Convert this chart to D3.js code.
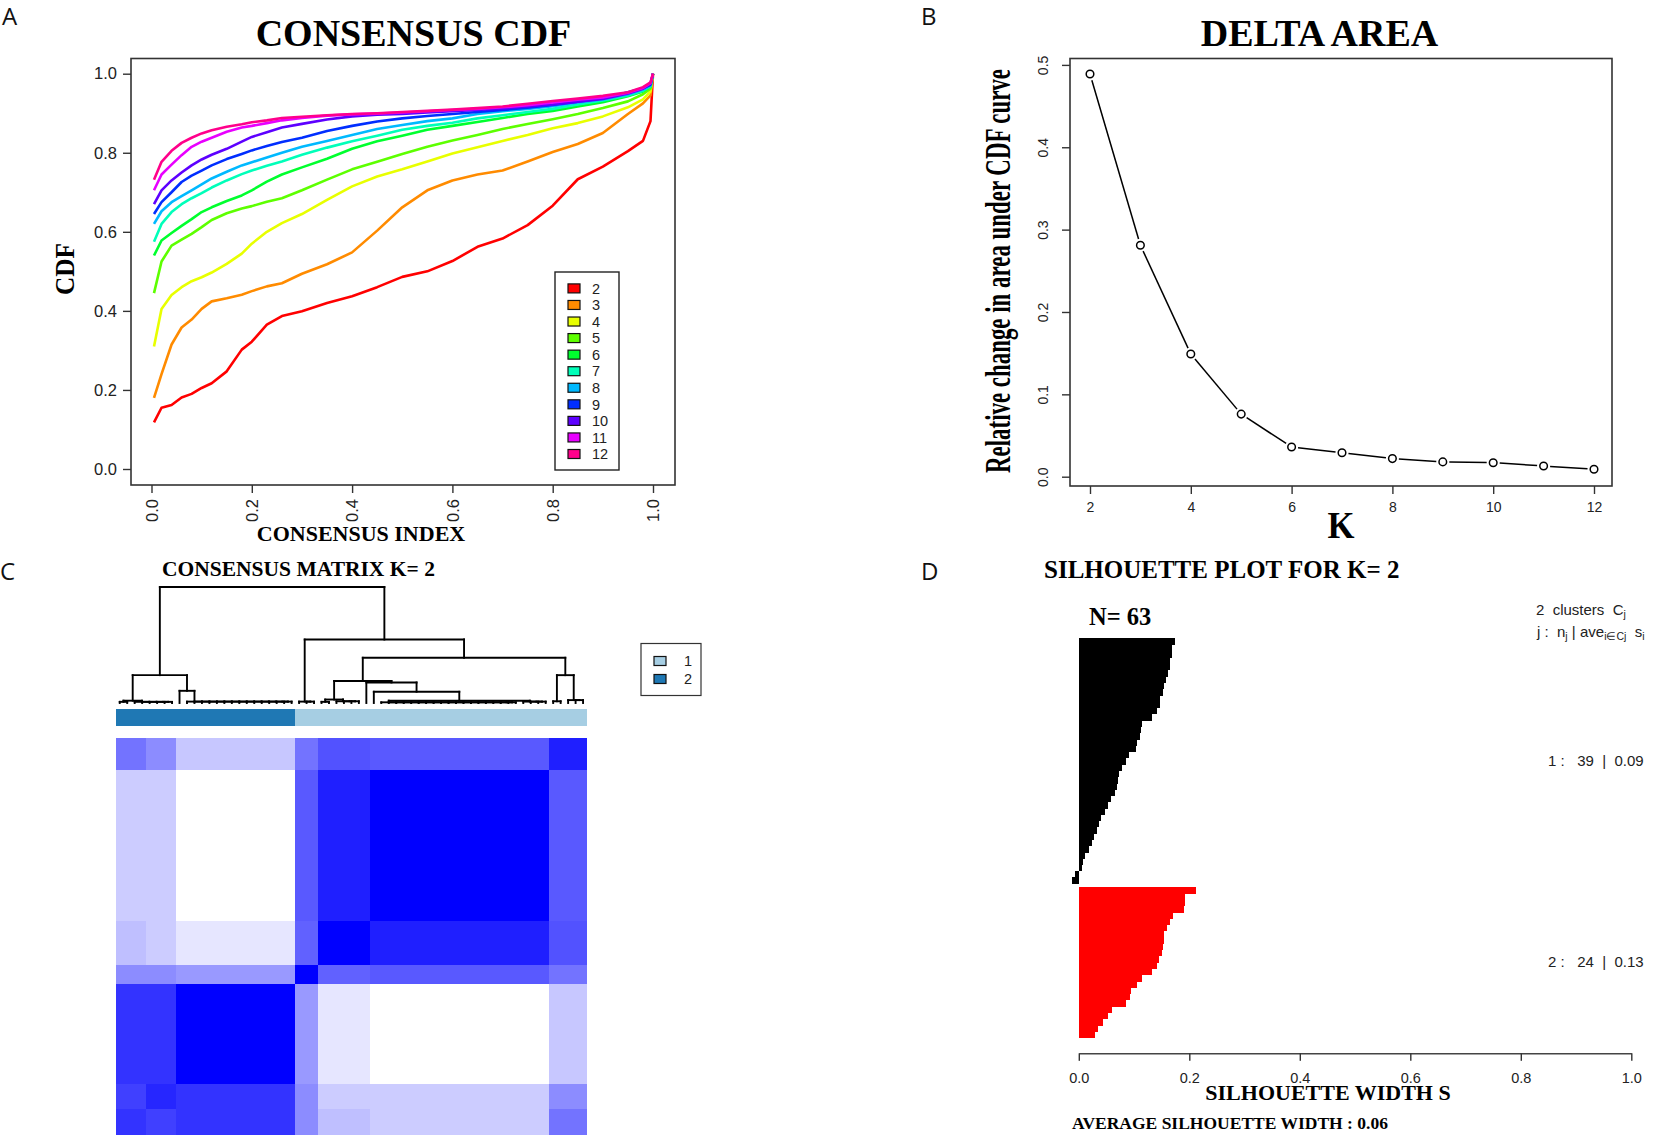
<!DOCTYPE html>
<html>
<head>
<meta charset="utf-8">
<script src="https://cdn.jsdelivr.net/npm/d3@7"></script>
<style>
  body { margin: 0; background: #fff; }
  svg { display: block; }
  text { font-family: "Liberation Sans", Arial, sans-serif; fill: #222; }
  .serif { font-family: "Liberation Serif", "Times New Roman", serif; font-weight: bold; fill: #000; }
  .panel { font-family: "Open Sans", "DejaVu Sans", sans-serif; font-size: 24px; fill: #111; }
  .pre { white-space: pre; }
</style>
</head>
<body>
<div id="chart"></div>
<script>
// ---------- Panel A: consensus CDF ----------
const cdfIndex = [0.005, 0.02, 0.04, 0.06, 0.08, 0.1, 0.12, 0.15, 0.18, 0.2, 0.23, 0.26, 0.3, 0.35, 0.4,
                  0.45, 0.5, 0.55, 0.6, 0.65, 0.7, 0.75, 0.8, 0.85, 0.9, 0.95, 0.98, 0.995, 1.0];
const cdfK2  = [0.118,0.155,0.162,0.181,0.19,0.205,0.217,0.247,0.302,0.322,0.365,0.387,0.399,0.42,0.437,0.46,0.486,0.5,0.526,0.562,0.583,0.617,0.666,0.733,0.765,0.804,0.83,0.88,1.0];
const cdfK3  = [0.18,0.24,0.315,0.358,0.378,0.405,0.424,0.432,0.441,0.45,0.462,0.47,0.494,0.518,0.548,0.603,0.662,0.705,0.73,0.745,0.755,0.778,0.802,0.822,0.85,0.898,0.925,0.945,1.0];
const cdfK4  = [0.31,0.405,0.44,0.46,0.475,0.485,0.497,0.519,0.545,0.57,0.6,0.622,0.645,0.681,0.715,0.74,0.758,0.778,0.798,0.814,0.83,0.845,0.862,0.875,0.892,0.915,0.935,0.955,1.0];
const cdfK5  = [0.445,0.525,0.565,0.58,0.595,0.612,0.63,0.647,0.659,0.665,0.676,0.685,0.705,0.732,0.758,0.777,0.797,0.815,0.831,0.845,0.86,0.873,0.885,0.898,0.913,0.93,0.948,0.962,1.0];
const cdfK6  = [0.54,0.578,0.597,0.615,0.632,0.65,0.662,0.678,0.692,0.705,0.727,0.745,0.763,0.785,0.81,0.829,0.843,0.858,0.868,0.878,0.888,0.898,0.906,0.917,0.928,0.943,0.955,0.967,1.0];
const cdfK7  = [0.575,0.62,0.65,0.67,0.685,0.698,0.712,0.73,0.746,0.755,0.767,0.778,0.795,0.813,0.829,0.843,0.858,0.868,0.876,0.887,0.895,0.903,0.911,0.922,0.932,0.945,0.957,0.968,1.0];
const cdfK8  = [0.62,0.652,0.675,0.69,0.705,0.72,0.735,0.752,0.768,0.776,0.788,0.8,0.815,0.83,0.845,0.86,0.87,0.88,0.887,0.898,0.905,0.911,0.918,0.927,0.935,0.948,0.96,0.97,1.0];
const cdfK9  = [0.645,0.675,0.7,0.726,0.742,0.755,0.768,0.784,0.797,0.806,0.817,0.827,0.838,0.855,0.868,0.879,0.887,0.893,0.898,0.903,0.908,0.914,0.921,0.929,0.938,0.953,0.963,0.972,1.0];
const cdfK10 = [0.67,0.705,0.73,0.75,0.768,0.783,0.795,0.81,0.828,0.84,0.852,0.864,0.873,0.884,0.892,0.896,0.898,0.902,0.905,0.908,0.912,0.917,0.922,0.929,0.936,0.95,0.962,0.975,1.0];
const cdfK11 = [0.705,0.745,0.77,0.794,0.815,0.828,0.838,0.853,0.864,0.868,0.875,0.882,0.888,0.894,0.897,0.899,0.902,0.905,0.908,0.911,0.915,0.92,0.927,0.934,0.94,0.952,0.964,0.976,1.0];
const cdfK12 = [0.732,0.777,0.805,0.825,0.838,0.849,0.857,0.866,0.872,0.877,0.882,0.888,0.891,0.895,0.898,0.9,0.903,0.906,0.909,0.913,0.917,0.924,0.931,0.937,0.944,0.953,0.966,0.978,1.0];
const cdfLabels = ["2","3","4","5","6","7","8","9","10","11","12"];
const cdfColors = ["#FF0000","#FF8B00","#E8FF00","#5DFF00","#00FF2E","#00FFB9","#00B9FF","#002EFF","#5D00FF","#E800FF","#FF008B"];
const cdfTicks = [0, 0.2, 0.4, 0.6, 0.8, 1.0];

// ---------- Panel B: delta area ----------
const deltaK = [2, 3, 4, 5, 6, 7, 8, 9, 10, 11, 12];
const deltaArea = [0.489, 0.281, 0.149, 0.076, 0.036, 0.029, 0.022, 0.018, 0.017, 0.013, 0.009];
const deltaXTicks = [2, 4, 6, 8, 10, 12];
const deltaYTicks = [0, 0.1, 0.2, 0.3, 0.4, 0.5];

// ---------- Panel C: consensus matrix ----------
// sample blocks in dendrogram order and the cluster each block belongs to
const blockSizes = [4, 4, 16, 3, 7, 24, 5];
const blockCluster = [2, 2, 2, 1, 1, 1, 1];
// consensus level between blocks (0 = white, 1 = full blue)
const consensusLevels = [
  [0.80, 0.75, 0.80, 0.45, 0.25, 0.20, 0.55],
  [0.75, 0.85, 0.80, 0.45, 0.20, 0.20, 0.45],
  [0.80, 0.80, 1.00, 0.40, 0.10, 0.00, 0.22],
  [0.45, 0.45, 0.40, 1.00, 0.62, 0.65, 0.55],
  [0.25, 0.20, 0.10, 0.62, 1.00, 0.88, 0.68],
  [0.20, 0.20, 0.00, 0.65, 0.88, 1.00, 0.65],
  [0.55, 0.45, 0.22, 0.55, 0.68, 0.65, 0.88]
];
const clusterColors = {1: "#A6CEE3", 2: "#1F78B4"};
// dendrogram: [height, left, right] or ["c", n, height] = chain of n leaves
const dendroTree =
  [1.0,
    [0.24,
      [0.02, ["c", 2, 0.01], ["c", 6, 0.01]],
      [0.105, ["c", 1, 0], ["c", 15, 0.012]]],
    [0.547,
      ["c", 3, 0.012],
      [0.39,
        [0.19,
          [0.03, ["c", 2, 0.01], ["c", 4, 0.015]],
          [0.177, ["c", 1, 0], [0.097, ["c", 1, 0], [0.02, ["c", 19, 0.006], ["c", 4, 0.012]]]]],
        [0.24, ["c", 2, 0.015], ["c", 3, 0.025]]]]];

// ---------- Panel D: silhouette ----------
const silCluster1 = [0.174,0.168,0.168,0.165,0.165,0.162,0.157,0.155,0.153,0.147,0.147,0.141,0.132,0.115,0.113,0.11,0.106,0.104,0.09,0.085,0.079,0.072,0.071,0.069,0.066,0.058,0.052,0.047,0.041,0.037,0.033,0.027,0.023,0.019,0.011,0.008,0.006,-0.006,-0.012];
const silCluster2 = [0.212,0.193,0.192,0.19,0.171,0.165,0.159,0.155,0.154,0.153,0.151,0.146,0.141,0.133,0.114,0.105,0.094,0.093,0.086,0.06,0.052,0.044,0.035,0.03];
const silTicks = [0, 0.2, 0.4, 0.6, 0.8, 1.0];

const svg = d3.select("#chart").append("svg").attr("width", 1654).attr("height", 1139);
svg.append("rect").attr("width", 1654).attr("height", 1139).attr("fill", "#fff");

const fmt1 = d3.format(".1f");

// squeeze a label to a given length (the original uses narrow, stretched type)
function squeeze(sel, x, y, rot, len) {
  const w = sel.node().getComputedTextLength();
  sel.attr("transform", `translate(${x},${y}) rotate(${rot}) scale(${len / w},1)`);
}

// ================= Panel A =================
const gA = svg.append("g");
const ax = d3.scaleLinear().domain([0, 1]).range([151.5, 653]);
const ay = d3.scaleLinear().domain([0, 1]).range([469, 73.7]);

gA.append("text").attr("class", "panel").attr("x", 2).attr("y", 25).text("A");
gA.append("text").attr("class", "serif").attr("x", 413.5).attr("y", 46).attr("text-anchor", "middle")
  .style("font-size", "38px").text("CONSENSUS CDF");

const cdfSeries = [cdfK2, cdfK3, cdfK4, cdfK5, cdfK6, cdfK7, cdfK8, cdfK9, cdfK10, cdfK11, cdfK12];
const cdfLine = d3.line().x((d, i) => ax(cdfIndex[i])).y(d => ay(d));
gA.append("g").selectAll("path").data(cdfSeries).enter().append("path")
  .attr("d", cdfLine).attr("fill", "none")
  .attr("stroke", (d, i) => cdfColors[i]).attr("stroke-width", 2.6).attr("stroke-linejoin", "round");

gA.append("rect").attr("x", 131).attr("y", 58.5).attr("width", 544).attr("height", 426.5)
  .attr("fill", "none").attr("stroke", "#333").attr("stroke-width", 1.6);

const aYAxis = gA.append("g").attr("transform", "translate(131,0)")
  .call(d3.axisLeft(ay).tickValues(cdfTicks).tickSize(8).tickSizeOuter(0).tickFormat(fmt1));
aYAxis.select(".domain").remove();
aYAxis.selectAll("text").style("font-size", "16.5px").attr("x", -14);

const aXAxis = gA.append("g").attr("transform", "translate(0,485)")
  .call(d3.axisBottom(ax).tickValues(cdfTicks).tickSize(8).tickSizeOuter(0).tickFormat(fmt1));
aXAxis.select(".domain").remove();
aXAxis.selectAll("text").style("font-size", "16.5px")
  .attr("transform", "rotate(-90)").attr("text-anchor", "end")
  .attr("x", -14).attr("y", 0).attr("dy", "0.35em");
gA.selectAll(".tick line").attr("stroke", "#333").attr("stroke-width", 1.4);

gA.append("text").attr("class", "serif").attr("x", 361).attr("y", 541).attr("text-anchor", "middle")
  .style("font-size", "22px").text("CONSENSUS INDEX");
gA.append("text").attr("class", "serif").attr("text-anchor", "middle").style("font-size", "27px")
  .text("CDF").call(squeeze, 74, 269, -90, 52);

// legend
const legA = gA.append("g");
legA.append("rect").attr("x", 555).attr("y", 272).attr("width", 64).attr("height", 198)
  .attr("fill", "#fff").attr("stroke", "#222").attr("stroke-width", 1.4);
const legItems = legA.selectAll("g.item").data(cdfLabels).enter().append("g")
  .attr("transform", (d, i) => `translate(0,${288.4 + i * 16.56})`);
legItems.append("rect").attr("x", 568).attr("y", -4.5).attr("width", 12).attr("height", 9)
  .attr("fill", (d, i) => cdfColors[i]).attr("stroke", "#111").attr("stroke-width", 1.2);
legItems.append("text").attr("x", 592).attr("y", 0).attr("dy", "0.36em")
  .style("font-size", "14.5px").text(d => d);

// ================= Panel B =================
const gB = svg.append("g");
const bx = d3.scaleLinear().domain([2, 12]).range([1090, 1594]);
const by = d3.scaleLinear().domain([0, 0.5]).range([476.7, 64.9]);

gB.append("text").attr("class", "panel").attr("x", 921).attr("y", 25).text("B");
gB.append("text").attr("class", "serif").attr("x", 1319.5).attr("y", 46).attr("text-anchor", "middle")
  .style("font-size", "38px").text("DELTA AREA");

gB.append("rect").attr("x", 1070).attr("y", 58.5).attr("width", 542).attr("height", 427.5)
  .attr("fill", "none").attr("stroke", "#333").attr("stroke-width", 1.6);

const bYAxis = gB.append("g").attr("transform", "translate(1070,0)")
  .call(d3.axisLeft(by).tickValues(deltaYTicks).tickSize(8).tickSizeOuter(0).tickFormat(fmt1));
bYAxis.select(".domain").remove();
bYAxis.selectAll("text").style("font-size", "14px")
  .attr("transform", "rotate(-90)").attr("text-anchor", "middle")
  .attr("x", 0).attr("y", -22).attr("dy", 0);
const bXAxis = gB.append("g").attr("transform", "translate(0,486)")
  .call(d3.axisBottom(bx).tickValues(deltaXTicks).tickSize(8).tickSizeOuter(0).tickFormat(d3.format("d")));
bXAxis.select(".domain").remove();
bXAxis.selectAll("text").style("font-size", "14px").attr("y", 16).attr("dy", "0.71em");
gB.selectAll(".tick line").attr("stroke", "#333").attr("stroke-width", 1.4);

// line segments with gaps around the points (type = "b")
const deltaPts = deltaK.map((k, i) => [bx(k), by(deltaArea[i])]);
const gap = 6.5;
const segB = d3.pairs(deltaPts).map(([p, q]) => {
  const dx = q[0] - p[0], dy = q[1] - p[1], len = Math.hypot(dx, dy);
  const ux = dx / len, uy = dy / len;
  return [p[0] + ux * gap, p[1] + uy * gap, q[0] - ux * gap, q[1] - uy * gap, len];
}).filter(s => s[4] > 2 * gap);
gB.append("g").selectAll("line").data(segB).enter().append("line")
  .attr("x1", d => d[0]).attr("y1", d => d[1]).attr("x2", d => d[2]).attr("y2", d => d[3])
  .attr("stroke", "#000").attr("stroke-width", 1.5);
gB.append("g").selectAll("circle").data(deltaPts).enter().append("circle")
  .attr("cx", d => d[0]).attr("cy", d => d[1]).attr("r", 3.8)
  .attr("fill", "#fff").attr("stroke", "#000").attr("stroke-width", 1.5);

gB.append("text").attr("class", "serif").attr("text-anchor", "middle").style("font-size", "38px")
  .text("K").call(squeeze, 1341, 538, 0, 27);
gB.append("text").attr("class", "serif").attr("text-anchor", "middle").style("font-size", "35px")
  .text("Relative change in area under CDF curve").call(squeeze, 1010, 271, -90, 404);

// ================= Panel C =================
const gC = svg.append("g");
gC.append("text").attr("class", "panel").attr("x", 0).attr("y", 580).text("C");
gC.append("text").attr("class", "serif").attr("x", 162).attr("y", 576)
  .style("font-size", "21.5px").text("CONSENSUS MATRIX K= 2");

const nSamples = d3.sum(blockSizes);
const sampleBlock = blockSizes.flatMap((n, b) => d3.range(n).map(() => b));
const samples = d3.range(nSamples);
const hx = d3.scaleBand().domain(samples).range([116, 586.8]);
const hy = d3.scaleBand().domain(samples.slice().reverse()).range([738, 1134]);
const blue = d3.scaleLinear().domain([0, 1]).range(["#ffffff", "#0000ff"]);

const cells = samples.flatMap(r => samples.map(c => ({r, c, v: consensusLevels[sampleBlock[r]][sampleBlock[c]]})));
gC.append("g").attr("shape-rendering", "crispEdges").selectAll("rect").data(cells).enter().append("rect")
  .attr("x", d => hx(d.c)).attr("y", d => hy(d.r))
  .attr("width", hx.bandwidth() + 0.5).attr("height", hy.bandwidth() + 0.5)
  .attr("fill", d => blue(d.v));

gC.append("g").attr("shape-rendering", "crispEdges").selectAll("rect").data(samples).enter().append("rect")
  .attr("x", d => hx(d)).attr("y", 708.7).attr("width", hx.bandwidth() + 0.5).attr("height", 17.3)
  .attr("fill", d => clusterColors[blockCluster[sampleBlock[d]]]);

// dendrogram
const dy = d3.scaleLinear().domain([0, 1]).range([703, 587]);
const leafX = i => hx(i) + hx.bandwidth() / 2;
let nextLeaf = 0;
const dSegs = [];
function buildTree(node) {
  if (node[0] === "c") {
    const n = node[1], h = node[2];
    const xs = d3.range(n).map(() => leafX(nextLeaf++));
    let x = xs[n - 1], ht = 0;
    for (let k = n - 2; k >= 0; k--) {
      dSegs.push([xs[k], dy(0), xs[k], dy(h)], [x, dy(ht), x, dy(h)], [xs[k], dy(h), x, dy(h)]);
      x = (xs[k] + x) / 2; ht = h;
    }
    return {x, h: n > 1 ? h : 0};
  }
  const a = buildTree(node[1]), b = buildTree(node[2]), h = node[0];
  dSegs.push([a.x, dy(a.h), a.x, dy(h)], [b.x, dy(b.h), b.x, dy(h)], [a.x, dy(h), b.x, dy(h)]);
  return {x: (a.x + b.x) / 2, h};
}
buildTree(dendroTree);
gC.append("g").selectAll("line").data(dSegs).enter().append("line")
  .attr("x1", d => d[0]).attr("y1", d => d[1]).attr("x2", d => d[2]).attr("y2", d => d[3])
  .attr("stroke", "#000").attr("stroke-width", 1.9).attr("stroke-linecap", "square");

// cluster legend
const legC = gC.append("g");
legC.append("rect").attr("x", 641).attr("y", 643.5).attr("width", 60).attr("height", 52)
  .attr("fill", "#fff").attr("stroke", "#333").attr("stroke-width", 1.2);
const legCItems = legC.selectAll("g.item").data([1, 2]).enter().append("g")
  .attr("transform", (d, i) => `translate(0,${661 + i * 18})`);
legCItems.append("rect").attr("x", 654).attr("y", -4.5).attr("width", 12).attr("height", 9)
  .attr("fill", d => clusterColors[d]).attr("stroke", "#111").attr("stroke-width", 1.2);
legCItems.append("text").attr("x", 684).attr("y", 0).attr("dy", "0.36em")
  .style("font-size", "14.5px").text(d => d);

// ================= Panel D =================
const gD = svg.append("g");
gD.append("text").attr("class", "panel").attr("x", 921).attr("y", 580).text("D");
gD.append("text").attr("class", "serif").attr("x", 1044).attr("y", 578)
  .style("font-size", "25px").text("SILHOUETTE PLOT FOR K= 2");
gD.append("text").attr("class", "serif").attr("x", 1089).attr("y", 625)
  .style("font-size", "24.5px").text("N= 63");

const sx = d3.scaleLinear().domain([0, 1]).range([1078.8, 1631.3]);
const silBars = silCluster1.map(v => ({v, c: 1})).concat(silCluster2.map(v => ({v, c: 2})));
const gapBars = 0.55;
const sy = d3.scaleLinear().domain([0, silBars.length + gapBars]).range([638.3, 1037.3]);
const barH = sy(1) - sy(0);
gD.append("g").attr("shape-rendering", "crispEdges").selectAll("rect").data(silBars).enter().append("rect")
  .attr("x", d => sx(Math.min(0, d.v))).attr("width", d => Math.abs(sx(d.v) - sx(0)))
  .attr("y", (d, i) => sy(i + (d.c === 2 ? gapBars : 0))).attr("height", barH + 0.8)
  .attr("fill", d => d.c === 1 ? "#000" : "#ff0000");

const dXAxis = gD.append("g").attr("transform", "translate(0,1053.3)")
  .call(d3.axisBottom(sx).tickValues(silTicks).tickSize(7.5).tickSizeOuter(0).tickFormat(fmt1));
dXAxis.select(".domain").attr("stroke", "#444").attr("stroke-width", 1.5);
dXAxis.selectAll(".tick line").attr("stroke", "#333").attr("stroke-width", 1.4);
dXAxis.selectAll("text").style("font-size", "14.5px").attr("y", 19).attr("dy", "0.71em");

gD.append("text").attr("class", "serif").attr("x", 1328).attr("y", 1100).attr("text-anchor", "middle")
  .style("font-size", "22px").text("SILHOUETTE WIDTH S");
gD.append("text").attr("class", "serif").attr("x", 1072).attr("y", 1129)
  .style("font-size", "17.5px").text("AVERAGE SILHOUETTE WIDTH : 0.06");

const silFmt = d3.format(".2f");
const t1 = gD.append("text").attr("class", "pre").attr("x", 1536).attr("y", 615).style("font-size", "15px");
t1.append("tspan").text("2  clusters  C");
t1.append("tspan").attr("dy", 3).style("font-size", "10.5px").text("j");
const t2 = gD.append("text").attr("class", "pre").attr("x", 1537).attr("y", 637).style("font-size", "15px");
t2.append("tspan").text("j :  n");
t2.append("tspan").attr("dy", 3).style("font-size", "10.5px").text("j");
t2.append("tspan").attr("dy", -3).text(" | ave");
t2.append("tspan").attr("dy", 3).style("font-size", "10.5px").text("i\u2208Cj");
t2.append("tspan").attr("dy", -3).text("  s");
t2.append("tspan").attr("dy", 3).style("font-size", "10.5px").text("i");
gD.append("text").attr("class", "pre").attr("x", 1548).attr("y", 766).style("font-size", "15px")
  .text(`1 :   ${silCluster1.length}  |  ${silFmt(d3.mean(silCluster1))}`);
gD.append("text").attr("class", "pre").attr("x", 1548).attr("y", 967).style("font-size", "15px")
  .text(`2 :   ${silCluster2.length}  |  ${silFmt(d3.mean(silCluster2))}`);
</script>
</body>
</html>
